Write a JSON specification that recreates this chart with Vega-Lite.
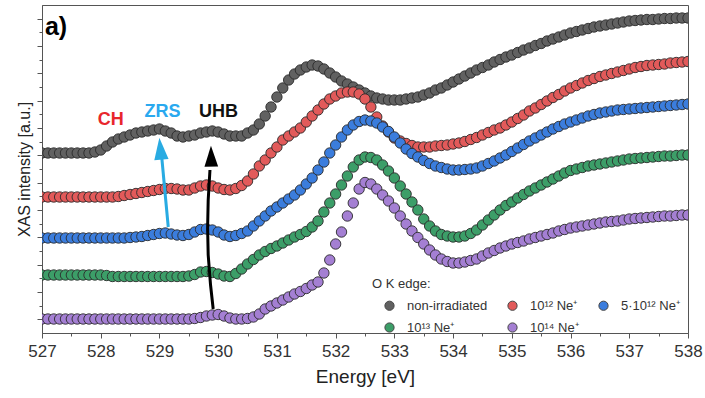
{
"$schema": "https://vega.github.io/schema/vega-lite/v6.json",
"width": 646, "height": 328,
"autosize": {"type": "none"},
"padding": {"left": 42, "top": 5, "right": 17, "bottom": 65},
"background": "white",
"config": {"font": "Liberation Sans", "view": {"stroke": "#555", "strokeWidth": 1}},
"datasets": {
"xas": [
{"s":"A","e":527.0,"i":1.8},{"s":"A","e":527.1,"i":1.8},{"s":"A","e":527.2,"i":1.8},{"s":"A","e":527.3,"i":1.8},{"s":"A","e":527.4,"i":1.8},{"s":"A","e":527.5,"i":1.8},{"s":"A","e":527.6,"i":1.8},{"s":"A","e":527.7,"i":1.8},{"s":"A","e":527.8,"i":1.8},{"s":"A","e":527.9,"i":1.81},
{"s":"A","e":528.0,"i":1.83},{"s":"A","e":528.1,"i":1.87},{"s":"A","e":528.2,"i":1.91},{"s":"A","e":528.3,"i":1.94},{"s":"A","e":528.4,"i":1.96},{"s":"A","e":528.5,"i":1.98},{"s":"A","e":528.6,"i":2.0},{"s":"A","e":528.7,"i":2.01},{"s":"A","e":528.8,"i":2.02},{"s":"A","e":528.9,"i":2.03},
{"s":"A","e":529.0,"i":2.04},{"s":"A","e":529.1,"i":2.02},{"s":"A","e":529.2,"i":2.0},{"s":"A","e":529.3,"i":1.97},{"s":"A","e":529.4,"i":1.96},{"s":"A","e":529.5,"i":1.97},{"s":"A","e":529.6,"i":1.98},{"s":"A","e":529.7,"i":2.0},{"s":"A","e":529.8,"i":2.01},{"s":"A","e":529.9,"i":2.02},
{"s":"A","e":530.0,"i":2.01},{"s":"A","e":530.1,"i":1.99},{"s":"A","e":530.2,"i":1.97},{"s":"A","e":530.3,"i":1.97},{"s":"A","e":530.4,"i":1.97},{"s":"A","e":530.5,"i":2.0},{"s":"A","e":530.6,"i":2.03},{"s":"A","e":530.7,"i":2.09},{"s":"A","e":530.8,"i":2.17},{"s":"A","e":530.9,"i":2.26},
{"s":"A","e":531.0,"i":2.36},{"s":"A","e":531.1,"i":2.45},{"s":"A","e":531.2,"i":2.53},{"s":"A","e":531.3,"i":2.59},{"s":"A","e":531.4,"i":2.63},{"s":"A","e":531.5,"i":2.66},{"s":"A","e":531.6,"i":2.68},{"s":"A","e":531.7,"i":2.67},{"s":"A","e":531.8,"i":2.64},{"s":"A","e":531.9,"i":2.6},
{"s":"A","e":532.0,"i":2.56},{"s":"A","e":532.1,"i":2.52},{"s":"A","e":532.2,"i":2.49},{"s":"A","e":532.3,"i":2.46},{"s":"A","e":532.4,"i":2.43},{"s":"A","e":532.5,"i":2.4},{"s":"A","e":532.6,"i":2.37},{"s":"A","e":532.7,"i":2.35},{"s":"A","e":532.8,"i":2.34},{"s":"A","e":532.9,"i":2.33},
{"s":"A","e":533.0,"i":2.33},{"s":"A","e":533.1,"i":2.33},{"s":"A","e":533.2,"i":2.34},{"s":"A","e":533.3,"i":2.35},{"s":"A","e":533.4,"i":2.36},{"s":"A","e":533.5,"i":2.38},{"s":"A","e":533.6,"i":2.4},{"s":"A","e":533.7,"i":2.43},{"s":"A","e":533.8,"i":2.45},{"s":"A","e":533.9,"i":2.48},
{"s":"A","e":534.0,"i":2.51},{"s":"A","e":534.1,"i":2.54},{"s":"A","e":534.2,"i":2.57},{"s":"A","e":534.3,"i":2.6},{"s":"A","e":534.4,"i":2.63},{"s":"A","e":534.5,"i":2.655},{"s":"A","e":534.6,"i":2.68},{"s":"A","e":534.7,"i":2.71},{"s":"A","e":534.8,"i":2.735},{"s":"A","e":534.9,"i":2.76},
{"s":"A","e":535.0,"i":2.78},{"s":"A","e":535.1,"i":2.805},{"s":"A","e":535.2,"i":2.83},{"s":"A","e":535.3,"i":2.85},{"s":"A","e":535.4,"i":2.875},{"s":"A","e":535.5,"i":2.895},{"s":"A","e":535.6,"i":2.92},{"s":"A","e":535.7,"i":2.94},{"s":"A","e":535.8,"i":2.96},{"s":"A","e":535.9,"i":2.98},
{"s":"A","e":536.0,"i":3.0},{"s":"A","e":536.1,"i":3.015},{"s":"A","e":536.2,"i":3.03},{"s":"A","e":536.3,"i":3.045},{"s":"A","e":536.4,"i":3.06},{"s":"A","e":536.5,"i":3.07},{"s":"A","e":536.6,"i":3.08},{"s":"A","e":536.7,"i":3.09},{"s":"A","e":536.8,"i":3.1},{"s":"A","e":536.9,"i":3.11},
{"s":"A","e":537.0,"i":3.12},{"s":"A","e":537.1,"i":3.125},{"s":"A","e":537.2,"i":3.13},{"s":"A","e":537.3,"i":3.135},{"s":"A","e":537.4,"i":3.135},{"s":"A","e":537.5,"i":3.14},{"s":"A","e":537.6,"i":3.145},{"s":"A","e":537.7,"i":3.145},{"s":"A","e":537.8,"i":3.15},{"s":"A","e":537.9,"i":3.15},{"s":"A","e":538.0,"i":3.15},

{"s":"B","e":527.0,"i":1.36},{"s":"B","e":527.1,"i":1.36},{"s":"B","e":527.2,"i":1.36},{"s":"B","e":527.3,"i":1.36},{"s":"B","e":527.4,"i":1.36},{"s":"B","e":527.5,"i":1.36},{"s":"B","e":527.6,"i":1.36},{"s":"B","e":527.7,"i":1.36},{"s":"B","e":527.8,"i":1.36},{"s":"B","e":527.9,"i":1.36},
{"s":"B","e":528.0,"i":1.36},{"s":"B","e":528.1,"i":1.36},{"s":"B","e":528.2,"i":1.36},{"s":"B","e":528.3,"i":1.365},{"s":"B","e":528.4,"i":1.375},{"s":"B","e":528.5,"i":1.385},{"s":"B","e":528.6,"i":1.395},{"s":"B","e":528.7,"i":1.405},{"s":"B","e":528.8,"i":1.415},{"s":"B","e":528.9,"i":1.425},
{"s":"B","e":529.0,"i":1.435},{"s":"B","e":529.1,"i":1.445},{"s":"B","e":529.2,"i":1.445},{"s":"B","e":529.3,"i":1.44},{"s":"B","e":529.4,"i":1.43},{"s":"B","e":529.5,"i":1.43},{"s":"B","e":529.6,"i":1.45},{"s":"B","e":529.7,"i":1.47},{"s":"B","e":529.8,"i":1.48},{"s":"B","e":529.9,"i":1.47},
{"s":"B","e":530.0,"i":1.45},{"s":"B","e":530.1,"i":1.435},{"s":"B","e":530.2,"i":1.43},{"s":"B","e":530.3,"i":1.445},{"s":"B","e":530.4,"i":1.475},{"s":"B","e":530.5,"i":1.52},{"s":"B","e":530.6,"i":1.59},{"s":"B","e":530.7,"i":1.67},{"s":"B","e":530.8,"i":1.73},{"s":"B","e":530.9,"i":1.8},
{"s":"B","e":531.0,"i":1.86},{"s":"B","e":531.1,"i":1.93},{"s":"B","e":531.2,"i":1.97},{"s":"B","e":531.3,"i":2.01},{"s":"B","e":531.4,"i":2.05},{"s":"B","e":531.5,"i":2.11},{"s":"B","e":531.6,"i":2.17},{"s":"B","e":531.7,"i":2.23},{"s":"B","e":531.8,"i":2.29},{"s":"B","e":531.9,"i":2.34},
{"s":"B","e":532.0,"i":2.37},{"s":"B","e":532.1,"i":2.4},{"s":"B","e":532.2,"i":2.41},{"s":"B","e":532.3,"i":2.41},{"s":"B","e":532.4,"i":2.39},{"s":"B","e":532.5,"i":2.34},{"s":"B","e":532.6,"i":2.26},{"s":"B","e":532.7,"i":2.16},{"s":"B","e":532.8,"i":2.07},{"s":"B","e":532.9,"i":2.01},
{"s":"B","e":533.0,"i":1.95},{"s":"B","e":533.1,"i":1.92},{"s":"B","e":533.2,"i":1.895},{"s":"B","e":533.3,"i":1.875},{"s":"B","e":533.4,"i":1.86},{"s":"B","e":533.5,"i":1.86},{"s":"B","e":533.6,"i":1.86},{"s":"B","e":533.7,"i":1.87},{"s":"B","e":533.8,"i":1.875},{"s":"B","e":533.9,"i":1.88},
{"s":"B","e":534.0,"i":1.89},{"s":"B","e":534.1,"i":1.9},{"s":"B","e":534.2,"i":1.915},{"s":"B","e":534.3,"i":1.935},{"s":"B","e":534.4,"i":1.955},{"s":"B","e":534.5,"i":1.98},{"s":"B","e":534.6,"i":2.005},{"s":"B","e":534.7,"i":2.03},{"s":"B","e":534.8,"i":2.05},{"s":"B","e":534.9,"i":2.08},
{"s":"B","e":535.0,"i":2.11},{"s":"B","e":535.1,"i":2.145},{"s":"B","e":535.2,"i":2.18},{"s":"B","e":535.3,"i":2.22},{"s":"B","e":535.4,"i":2.25},{"s":"B","e":535.5,"i":2.285},{"s":"B","e":535.6,"i":2.32},{"s":"B","e":535.7,"i":2.355},{"s":"B","e":535.8,"i":2.385},{"s":"B","e":535.9,"i":2.42},
{"s":"B","e":536.0,"i":2.45},{"s":"B","e":536.1,"i":2.475},{"s":"B","e":536.2,"i":2.5},{"s":"B","e":536.3,"i":2.525},{"s":"B","e":536.4,"i":2.545},{"s":"B","e":536.5,"i":2.565},{"s":"B","e":536.6,"i":2.58},{"s":"B","e":536.7,"i":2.595},{"s":"B","e":536.8,"i":2.61},{"s":"B","e":536.9,"i":2.625},
{"s":"B","e":537.0,"i":2.64},{"s":"B","e":537.1,"i":2.655},{"s":"B","e":537.2,"i":2.665},{"s":"B","e":537.3,"i":2.675},{"s":"B","e":537.4,"i":2.68},{"s":"B","e":537.5,"i":2.685},{"s":"B","e":537.6,"i":2.69},{"s":"B","e":537.7,"i":2.7},{"s":"B","e":537.8,"i":2.705},{"s":"B","e":537.9,"i":2.71},{"s":"B","e":538.0,"i":2.715},

{"s":"C","e":527.0,"i":0.95},{"s":"C","e":527.1,"i":0.95},{"s":"C","e":527.2,"i":0.95},{"s":"C","e":527.3,"i":0.95},{"s":"C","e":527.4,"i":0.95},{"s":"C","e":527.5,"i":0.95},{"s":"C","e":527.6,"i":0.95},{"s":"C","e":527.7,"i":0.95},{"s":"C","e":527.8,"i":0.95},{"s":"C","e":527.9,"i":0.95},
{"s":"C","e":528.0,"i":0.95},{"s":"C","e":528.1,"i":0.95},{"s":"C","e":528.2,"i":0.95},{"s":"C","e":528.3,"i":0.95},{"s":"C","e":528.4,"i":0.95},{"s":"C","e":528.5,"i":0.955},{"s":"C","e":528.6,"i":0.96},{"s":"C","e":528.7,"i":0.965},{"s":"C","e":528.8,"i":0.975},{"s":"C","e":528.9,"i":0.985},
{"s":"C","e":529.0,"i":0.995},{"s":"C","e":529.1,"i":1.0},{"s":"C","e":529.2,"i":0.99},{"s":"C","e":529.3,"i":0.98},{"s":"C","e":529.4,"i":0.975},{"s":"C","e":529.5,"i":0.985},{"s":"C","e":529.6,"i":1.01},{"s":"C","e":529.7,"i":1.035},{"s":"C","e":529.8,"i":1.04},{"s":"C","e":529.9,"i":1.03},
{"s":"C","e":530.0,"i":1.01},{"s":"C","e":530.1,"i":0.98},{"s":"C","e":530.2,"i":0.965},{"s":"C","e":530.3,"i":0.975},{"s":"C","e":530.4,"i":0.995},{"s":"C","e":530.5,"i":1.02},{"s":"C","e":530.6,"i":1.07},{"s":"C","e":530.7,"i":1.12},{"s":"C","e":530.8,"i":1.17},{"s":"C","e":530.9,"i":1.22},
{"s":"C","e":531.0,"i":1.26},{"s":"C","e":531.1,"i":1.3},{"s":"C","e":531.2,"i":1.34},{"s":"C","e":531.3,"i":1.38},{"s":"C","e":531.4,"i":1.43},{"s":"C","e":531.5,"i":1.49},{"s":"C","e":531.6,"i":1.55},{"s":"C","e":531.7,"i":1.63},{"s":"C","e":531.8,"i":1.71},{"s":"C","e":531.9,"i":1.8},
{"s":"C","e":532.0,"i":1.88},{"s":"C","e":532.1,"i":1.96},{"s":"C","e":532.2,"i":2.03},{"s":"C","e":532.3,"i":2.08},{"s":"C","e":532.4,"i":2.115},{"s":"C","e":532.5,"i":2.13},{"s":"C","e":532.6,"i":2.12},{"s":"C","e":532.7,"i":2.1},{"s":"C","e":532.8,"i":2.06},{"s":"C","e":532.9,"i":2.015},
{"s":"C","e":533.0,"i":1.96},{"s":"C","e":533.1,"i":1.9},{"s":"C","e":533.2,"i":1.84},{"s":"C","e":533.3,"i":1.795},{"s":"C","e":533.4,"i":1.76},{"s":"C","e":533.5,"i":1.725},{"s":"C","e":533.6,"i":1.695},{"s":"C","e":533.7,"i":1.67},{"s":"C","e":533.8,"i":1.655},{"s":"C","e":533.9,"i":1.64},
{"s":"C","e":534.0,"i":1.63},{"s":"C","e":534.1,"i":1.63},{"s":"C","e":534.2,"i":1.635},{"s":"C","e":534.3,"i":1.64},{"s":"C","e":534.4,"i":1.65},{"s":"C","e":534.5,"i":1.67},{"s":"C","e":534.6,"i":1.695},{"s":"C","e":534.7,"i":1.72},{"s":"C","e":534.8,"i":1.75},{"s":"C","e":534.9,"i":1.78},
{"s":"C","e":535.0,"i":1.815},{"s":"C","e":535.1,"i":1.85},{"s":"C","e":535.2,"i":1.885},{"s":"C","e":535.3,"i":1.92},{"s":"C","e":535.4,"i":1.95},{"s":"C","e":535.5,"i":1.98},{"s":"C","e":535.6,"i":2.01},{"s":"C","e":535.7,"i":2.04},{"s":"C","e":535.8,"i":2.065},{"s":"C","e":535.9,"i":2.09},
{"s":"C","e":536.0,"i":2.11},{"s":"C","e":536.1,"i":2.13},{"s":"C","e":536.2,"i":2.15},{"s":"C","e":536.3,"i":2.17},{"s":"C","e":536.4,"i":2.185},{"s":"C","e":536.5,"i":2.2},{"s":"C","e":536.6,"i":2.21},{"s":"C","e":536.7,"i":2.22},{"s":"C","e":536.8,"i":2.23},{"s":"C","e":536.9,"i":2.235},
{"s":"C","e":537.0,"i":2.24},{"s":"C","e":537.1,"i":2.245},{"s":"C","e":537.2,"i":2.25},{"s":"C","e":537.3,"i":2.255},{"s":"C","e":537.4,"i":2.26},{"s":"C","e":537.5,"i":2.265},{"s":"C","e":537.6,"i":2.27},{"s":"C","e":537.7,"i":2.275},{"s":"C","e":537.8,"i":2.28},{"s":"C","e":537.9,"i":2.285},{"s":"C","e":538.0,"i":2.29},

{"s":"D","e":527.0,"i":0.58},{"s":"D","e":527.1,"i":0.58},{"s":"D","e":527.2,"i":0.58},{"s":"D","e":527.3,"i":0.58},{"s":"D","e":527.4,"i":0.58},{"s":"D","e":527.5,"i":0.58},{"s":"D","e":527.6,"i":0.58},{"s":"D","e":527.7,"i":0.58},{"s":"D","e":527.8,"i":0.58},{"s":"D","e":527.9,"i":0.58},
{"s":"D","e":528.0,"i":0.58},{"s":"D","e":528.1,"i":0.575},{"s":"D","e":528.2,"i":0.565},{"s":"D","e":528.3,"i":0.565},{"s":"D","e":528.4,"i":0.565},{"s":"D","e":528.5,"i":0.565},{"s":"D","e":528.6,"i":0.565},{"s":"D","e":528.7,"i":0.565},{"s":"D","e":528.8,"i":0.565},{"s":"D","e":528.9,"i":0.565},
{"s":"D","e":529.0,"i":0.565},{"s":"D","e":529.1,"i":0.565},{"s":"D","e":529.2,"i":0.565},{"s":"D","e":529.3,"i":0.565},{"s":"D","e":529.4,"i":0.565},{"s":"D","e":529.5,"i":0.57},{"s":"D","e":529.6,"i":0.585},{"s":"D","e":529.7,"i":0.61},{"s":"D","e":529.8,"i":0.615},{"s":"D","e":529.9,"i":0.605},
{"s":"D","e":530.0,"i":0.59},{"s":"D","e":530.1,"i":0.57},{"s":"D","e":530.2,"i":0.565},{"s":"D","e":530.3,"i":0.595},{"s":"D","e":530.4,"i":0.64},{"s":"D","e":530.5,"i":0.69},{"s":"D","e":530.6,"i":0.735},{"s":"D","e":530.7,"i":0.78},{"s":"D","e":530.8,"i":0.815},{"s":"D","e":530.9,"i":0.845},
{"s":"D","e":531.0,"i":0.87},{"s":"D","e":531.1,"i":0.9},{"s":"D","e":531.2,"i":0.93},{"s":"D","e":531.3,"i":0.96},{"s":"D","e":531.4,"i":0.985},{"s":"D","e":531.5,"i":1.015},{"s":"D","e":531.6,"i":1.06},{"s":"D","e":531.7,"i":1.12},{"s":"D","e":531.8,"i":1.21},{"s":"D","e":531.9,"i":1.3},
{"s":"D","e":532.0,"i":1.39},{"s":"D","e":532.1,"i":1.48},{"s":"D","e":532.2,"i":1.57},{"s":"D","e":532.3,"i":1.66},{"s":"D","e":532.4,"i":1.73},{"s":"D","e":532.5,"i":1.76},{"s":"D","e":532.6,"i":1.755},{"s":"D","e":532.7,"i":1.73},{"s":"D","e":532.8,"i":1.68},{"s":"D","e":532.9,"i":1.62},
{"s":"D","e":533.0,"i":1.55},{"s":"D","e":533.1,"i":1.47},{"s":"D","e":533.2,"i":1.39},{"s":"D","e":533.3,"i":1.31},{"s":"D","e":533.4,"i":1.23},{"s":"D","e":533.5,"i":1.14},{"s":"D","e":533.6,"i":1.07},{"s":"D","e":533.7,"i":1.02},{"s":"D","e":533.8,"i":0.985},{"s":"D","e":533.9,"i":0.97},
{"s":"D","e":534.0,"i":0.96},{"s":"D","e":534.1,"i":0.96},{"s":"D","e":534.2,"i":0.97},{"s":"D","e":534.3,"i":0.995},{"s":"D","e":534.4,"i":1.03},{"s":"D","e":534.5,"i":1.08},{"s":"D","e":534.6,"i":1.13},{"s":"D","e":534.7,"i":1.18},{"s":"D","e":534.8,"i":1.23},{"s":"D","e":534.9,"i":1.275},
{"s":"D","e":535.0,"i":1.31},{"s":"D","e":535.1,"i":1.35},{"s":"D","e":535.2,"i":1.385},{"s":"D","e":535.3,"i":1.42},{"s":"D","e":535.4,"i":1.45},{"s":"D","e":535.5,"i":1.48},{"s":"D","e":535.6,"i":1.51},{"s":"D","e":535.7,"i":1.54},{"s":"D","e":535.8,"i":1.57},{"s":"D","e":535.9,"i":1.6},
{"s":"D","e":536.0,"i":1.625},{"s":"D","e":536.1,"i":1.64},{"s":"D","e":536.2,"i":1.655},{"s":"D","e":536.3,"i":1.67},{"s":"D","e":536.4,"i":1.68},{"s":"D","e":536.5,"i":1.69},{"s":"D","e":536.6,"i":1.7},{"s":"D","e":536.7,"i":1.71},{"s":"D","e":536.8,"i":1.72},{"s":"D","e":536.9,"i":1.73},
{"s":"D","e":537.0,"i":1.74},{"s":"D","e":537.1,"i":1.745},{"s":"D","e":537.2,"i":1.75},{"s":"D","e":537.3,"i":1.755},{"s":"D","e":537.4,"i":1.76},{"s":"D","e":537.5,"i":1.765},{"s":"D","e":537.6,"i":1.77},{"s":"D","e":537.7,"i":1.77},{"s":"D","e":537.8,"i":1.775},{"s":"D","e":537.9,"i":1.78},{"s":"D","e":538.0,"i":1.78},

{"s":"E","e":527.0,"i":0.14},{"s":"E","e":527.1,"i":0.14},{"s":"E","e":527.2,"i":0.14},{"s":"E","e":527.3,"i":0.14},{"s":"E","e":527.4,"i":0.14},{"s":"E","e":527.5,"i":0.14},{"s":"E","e":527.6,"i":0.14},{"s":"E","e":527.7,"i":0.14},{"s":"E","e":527.8,"i":0.14},{"s":"E","e":527.9,"i":0.14},
{"s":"E","e":528.0,"i":0.14},{"s":"E","e":528.1,"i":0.14},{"s":"E","e":528.2,"i":0.14},{"s":"E","e":528.3,"i":0.14},{"s":"E","e":528.4,"i":0.14},{"s":"E","e":528.5,"i":0.14},{"s":"E","e":528.6,"i":0.14},{"s":"E","e":528.7,"i":0.14},{"s":"E","e":528.8,"i":0.14},{"s":"E","e":528.9,"i":0.14},
{"s":"E","e":529.0,"i":0.14},{"s":"E","e":529.1,"i":0.14},{"s":"E","e":529.2,"i":0.14},{"s":"E","e":529.3,"i":0.14},{"s":"E","e":529.4,"i":0.14},{"s":"E","e":529.5,"i":0.14},{"s":"E","e":529.6,"i":0.145},{"s":"E","e":529.7,"i":0.155},{"s":"E","e":529.8,"i":0.17},{"s":"E","e":529.9,"i":0.18},
{"s":"E","e":530.0,"i":0.185},{"s":"E","e":530.1,"i":0.17},{"s":"E","e":530.2,"i":0.15},{"s":"E","e":530.3,"i":0.14},{"s":"E","e":530.4,"i":0.14},{"s":"E","e":530.5,"i":0.145},{"s":"E","e":530.6,"i":0.16},{"s":"E","e":530.7,"i":0.19},{"s":"E","e":530.8,"i":0.24},{"s":"E","e":530.9,"i":0.27},
{"s":"E","e":531.0,"i":0.3},{"s":"E","e":531.1,"i":0.33},{"s":"E","e":531.2,"i":0.36},{"s":"E","e":531.3,"i":0.39},{"s":"E","e":531.4,"i":0.415},{"s":"E","e":531.5,"i":0.445},{"s":"E","e":531.6,"i":0.48},{"s":"E","e":531.7,"i":0.51},{"s":"E","e":531.8,"i":0.6},{"s":"E","e":531.9,"i":0.73},
{"s":"E","e":532.0,"i":0.89},{"s":"E","e":532.1,"i":1.01},{"s":"E","e":532.2,"i":1.17},{"s":"E","e":532.3,"i":1.3},{"s":"E","e":532.4,"i":1.44},{"s":"E","e":532.5,"i":1.505},{"s":"E","e":532.6,"i":1.49},{"s":"E","e":532.7,"i":1.44},{"s":"E","e":532.8,"i":1.38},{"s":"E","e":532.9,"i":1.32},
{"s":"E","e":533.0,"i":1.25},{"s":"E","e":533.1,"i":1.17},{"s":"E","e":533.2,"i":1.09},{"s":"E","e":533.3,"i":1.02},{"s":"E","e":533.4,"i":0.955},{"s":"E","e":533.5,"i":0.89},{"s":"E","e":533.6,"i":0.83},{"s":"E","e":533.7,"i":0.78},{"s":"E","e":533.8,"i":0.74},{"s":"E","e":533.9,"i":0.715},
{"s":"E","e":534.0,"i":0.7},{"s":"E","e":534.1,"i":0.7},{"s":"E","e":534.2,"i":0.71},{"s":"E","e":534.3,"i":0.725},{"s":"E","e":534.4,"i":0.74},{"s":"E","e":534.5,"i":0.77},{"s":"E","e":534.6,"i":0.8},{"s":"E","e":534.7,"i":0.825},{"s":"E","e":534.8,"i":0.85},{"s":"E","e":534.9,"i":0.87},
{"s":"E","e":535.0,"i":0.89},{"s":"E","e":535.1,"i":0.905},{"s":"E","e":535.2,"i":0.92},{"s":"E","e":535.3,"i":0.94},{"s":"E","e":535.4,"i":0.955},{"s":"E","e":535.5,"i":0.97},{"s":"E","e":535.6,"i":0.985},{"s":"E","e":535.7,"i":1.0},{"s":"E","e":535.8,"i":1.02},{"s":"E","e":535.9,"i":1.035},
{"s":"E","e":536.0,"i":1.05},{"s":"E","e":536.1,"i":1.06},{"s":"E","e":536.2,"i":1.07},{"s":"E","e":536.3,"i":1.08},{"s":"E","e":536.4,"i":1.09},{"s":"E","e":536.5,"i":1.1},{"s":"E","e":536.6,"i":1.11},{"s":"E","e":536.7,"i":1.115},{"s":"E","e":536.8,"i":1.12},{"s":"E","e":536.9,"i":1.13},
{"s":"E","e":537.0,"i":1.14},{"s":"E","e":537.1,"i":1.145},{"s":"E","e":537.2,"i":1.15},{"s":"E","e":537.3,"i":1.155},{"s":"E","e":537.4,"i":1.16},{"s":"E","e":537.5,"i":1.165},{"s":"E","e":537.6,"i":1.17},{"s":"E","e":537.7,"i":1.17},{"s":"E","e":537.8,"i":1.175},{"s":"E","e":537.9,"i":1.18},{"s":"E","e":538.0,"i":1.18}
],
"zrsLine": [{"o":1,"e":529.15,"i":1.06},{"o":2,"e":529.04,"i":1.75}],
"zrsHead": [{"e":529.016,"i":1.844}],
"uhbLine": [{"o":1,"e":529.915,"i":0.24},{"o":2,"e":529.87,"i":0.48},{"o":3,"e":529.83,"i":0.78},{"o":4,"e":529.82,"i":1.05},{"o":5,"e":529.83,"i":1.33},{"o":6,"e":529.86,"i":1.63}],
"uhbHead": [{"e":529.88,"i":1.768}],
"panel": [{"t":"a)","e":527.05,"i":2.98}],
"ch": [{"t":"CH","e":528.17,"i":2.08}],
"zrs": [{"t":"ZRS","e":529.05,"i":2.16}],
"uhb": [{"t":"UHB","e":530.005,"i":2.16}]
},
"encoding": {
 "x": {"field": "e", "type": "quantitative",
   "scale": {"domain": [527, 538], "nice": false, "zero": false},
   "axis": {"title": "Energy [eV]", "grid": false,
     "values": [527,527.5,528,528.5,529,529.5,530,530.5,531,531.5,532,532.5,533,533.5,534,534.5,535,535.5,536,536.5,537,537.5,538],
     "labelExpr": "datum.value % 1 === 0 ? format(datum.value, 'd') : ''",
     "tickSize": {"condition": {"test": "datum.value % 1 === 0", "value": 5}, "value": 3},
     "domainColor": "#555", "tickColor": "#555", "labelFontSize": 17, "labelColor": "#333", "labelPadding": 5,
     "labelFlush": false, "labelOverlap": false,
     "titleFontSize": 19, "titleFontWeight": "normal", "titleColor": "#222", "titlePadding": 8}},
 "y": {"field": "i", "type": "quantitative",
   "scale": {"domain": [0, 3.28], "nice": false, "zero": false},
   "axis": {"title": "XAS intensity [a.u.]", "grid": false, "labels": false,
     "values": [0.1367,0.2733,0.41,0.5467,0.6833,0.82,0.9567,1.0933,1.23,1.3667,1.5033,1.64,1.7767,1.9133,2.05,2.1867,2.3233,2.46,2.5967,2.7333,2.87,3.0067,3.1433],
     "tickSize": {"condition": {"test": "round(datum.value / 0.136667) % 2 === 1", "value": 5}, "value": 3},
     "domainColor": "#555", "tickColor": "#555",
     "titleFontSize": 16, "titleFontWeight": "normal", "titleColor": "#222", "titlePadding": 4}}
},
"layer": [
 {"data": {"name": "xas"},
  "mark": {"type": "point", "filled": true, "size": 108, "opacity": 1, "stroke": "#2b2b2b", "strokeWidth": 0.9, "clip": true},
  "encoding": {
   "color": {"field": "s", "type": "nominal",
     "scale": {"domain": ["A","B","C","D","E"], "range": ["#616161","#e25a5a","#3b7ddd","#3c9e68","#a47fd3"]},
     "legend": {"title": "O K edge:", "orient": "none", "legendX": 330, "legendY": 273, "direction": "horizontal", "columns": 3,
       "padding": 0, "titleFontSize": 13, "titleFontWeight": "normal", "titleColor": "#333", "titlePadding": 8,
       "labelFontSize": 13, "labelColor": "#333", "symbolType": "circle", "symbolSize": 85, "symbolStrokeColor": "#444", "symbolStrokeWidth": 1, "symbolOpacity": 1,
       "symbolOffset": 11, "labelOffset": 11, "rowPadding": 7, "columnPadding": 7,
       "labelExpr": "datum.label === 'A' ? 'non-irradiated' : datum.label === 'B' ? '10¹² Ne⁺' : datum.label === 'C' ? '5·10¹² Ne⁺' : datum.label === 'D' ? '10¹³ Ne⁺' : '10¹⁴ Ne⁺'"}}
  }},
 {"data": {"name": "zrsLine"}, "mark": {"type": "line", "color": "#29abe2", "strokeWidth": 3}, "encoding": {"order": {"field": "o", "type": "quantitative"}}},
 {"data": {"name": "zrsHead"}, "mark": {"type": "point", "filled": true, "opacity": 1, "color": "#29abe2", "shape": "M0,-1L0.65,1L-0.65,1Z", "size": 484, "angle": -5.4}, "encoding": {}},
 {"data": {"name": "uhbLine"}, "mark": {"type": "line", "color": "#000000", "strokeWidth": 3}, "encoding": {"order": {"field": "o", "type": "quantitative"}}},
 {"data": {"name": "uhbHead"}, "mark": {"type": "point", "filled": true, "opacity": 1, "color": "#000000", "shape": "M0,-1L0.65,1L-0.65,1Z", "size": 441, "angle": -1}, "encoding": {}},
 {"data": {"name": "panel"}, "mark": {"type": "text", "align": "left", "baseline": "alphabetic", "fontSize": 25, "fontWeight": "bold", "color": "#000000"}, "encoding": {"text": {"field": "t"}}},
 {"data": {"name": "ch"}, "mark": {"type": "text", "align": "center", "baseline": "alphabetic", "fontSize": 18, "fontWeight": "bold", "color": "#e8262c"}, "encoding": {"text": {"field": "t"}}},
 {"data": {"name": "zrs"}, "mark": {"type": "text", "align": "center", "baseline": "alphabetic", "fontSize": 18, "fontWeight": "bold", "color": "#2aa9ef"}, "encoding": {"text": {"field": "t"}}},
 {"data": {"name": "uhb"}, "mark": {"type": "text", "align": "center", "baseline": "alphabetic", "fontSize": 18, "fontWeight": "bold", "color": "#111111"}, "encoding": {"text": {"field": "t"}}}
]
}
